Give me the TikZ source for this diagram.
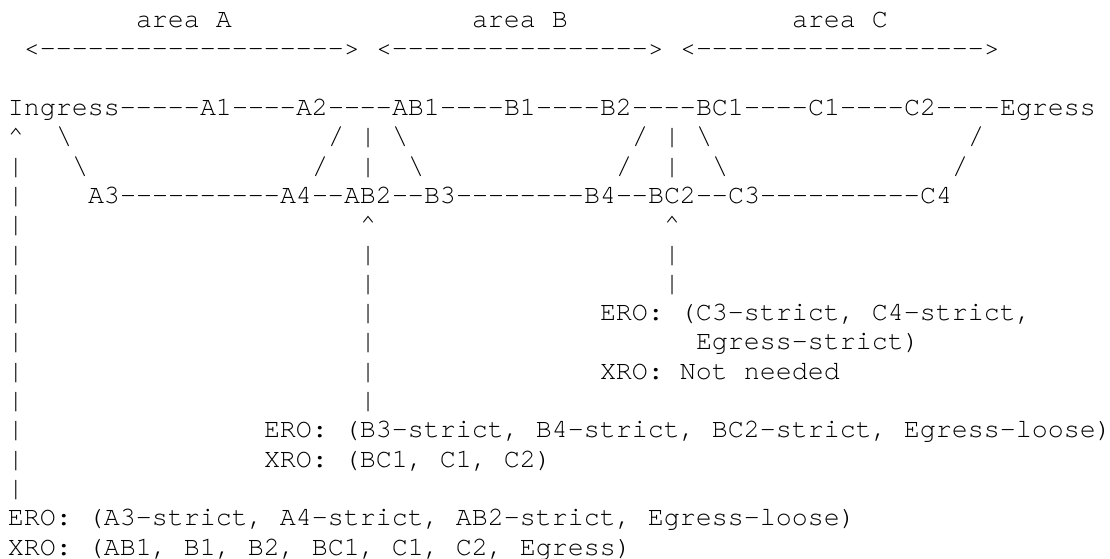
\documentclass[tikz,border=0pt]{standalone}
\usepackage{fontspec}
\setmonofont{TeX Gyre Cursor}
\tikzset{
  ascii/.style={font=\ttfamily\fontsize{13.33pt}{14.65pt}\selectfont\frenchspacing,
    inner sep=0pt, outer sep=0pt, text height=9pt, text depth=3pt},
  cell/.style={ascii, anchor=base west},
}
\begin{document}
\begin{tikzpicture}[x=8pt,y=-14.65pt]
  \useasboundingbox (-4pt,-0.85pt) rectangle (551pt,-279.85pt);

  % areas
  \begin{scope}[every node/.style={cell}]
    \node (areaA) at (8,1)  {area A};
    \node (areaB) at (29,1) {area B};
    \node (areaC) at (49,1) {area C};
    \node (spanA) at (1,2)  {<------------------->};
    \node (spanB) at (23,2) {<---------------->};
    \node (spanC) at (42,2) {<------------------>};
  \end{scope}

  % routers
  \begin{scope}[every node/.style={cell}]
    \node (ingress) at (0,4)  {Ingress};
    \node (a1)      at (12,4) {A1};
    \node (a2)      at (18,4) {A2};
    \node (ab1)     at (24,4) {AB1};
    \node (b1)      at (31,4) {B1};
    \node (b2)      at (37,4) {B2};
    \node (bc1)     at (43,4) {BC1};
    \node (c1)      at (50,4) {C1};
    \node (c2)      at (56,4) {C2};
    \node (egress)  at (62,4) {Egress};
    \node (a3)      at (5,7)  {A3};
    \node (a4)      at (17,7) {A4};
    \node (ab2)     at (21,7) {AB2};
    \node (b3)      at (26,7) {B3};
    \node (b4)      at (36,7) {B4};
    \node (bc2)     at (40,7) {BC2};
    \node (c3)      at (45,7) {C3};
    \node (c4)      at (57,7) {C4};
  \end{scope}

  % links
  \begin{scope}[every node/.style={ascii}]
    \path (ingress.east) -- node {-----} (a1.west);
    \path (a1.east)  -- node {----} (a2.west);
    \path (a2.east)  -- node {----} (ab1.west);
    \path (ab1.east) -- node {----} (b1.west);
    \path (b1.east)  -- node {----} (b2.west);
    \path (b2.east)  -- node {----} (bc1.west);
    \path (bc1.east) -- node {----} (c1.west);
    \path (c1.east)  -- node {----} (c2.west);
    \path (c2.east)  -- node {----} (egress.west);
    \path (a3.east)  -- node {----------} (a4.west);
    \path (a4.east)  -- node {--} (ab2.west);
    \path (ab2.east) -- node {--} (b3.west);
    \path (b3.east)  -- node {--------} (b4.west);
    \path (b4.east)  -- node {--} (bc2.west);
    \path (bc2.east) -- node {--} (c3.west);
    \path (c3.east)  -- node {----------} (c4.west);
  \end{scope}

  % diagonal and vertical links
  \begin{scope}[every node/.style={cell}]
    \node (d1) at (3,5)  {\textbackslash};
    \node (d2) at (4,6)  {\textbackslash};
    \node (d3) at (20,5) {/};
    \node (d4) at (19,6) {/};
    \node (d5) at (24,5) {\textbackslash};
    \node (d6) at (25,6) {\textbackslash};
    \node (d7) at (39,5) {/};
    \node (d8) at (38,6) {/};
    \node (d9) at (43,5) {\textbackslash};
    \node (d10) at (44,6) {\textbackslash};
    \node (d11) at (60,5) {/};
    \node (d12) at (59,6) {/};
    \node (v1) at (22,5) {|};
    \node (v2) at (22,6) {|};
    \node (v3) at (41,5) {|};
    \node (v4) at (41,6) {|};
  \end{scope}

  % pointers to the routers
  \begin{scope}[every node/.style={cell}]
    \node (upIn)  at (0,5)  {\textasciicircum};
    \node (upAB)  at (22,8) {\textasciicircum};
    \node (upBC)  at (41,8) {\textasciicircum};
    \foreach \r in {6,...,17} \node (barIn\r) at (0,\r) {|};
    \foreach \r in {9,...,14} \node (barAB\r) at (22,\r) {|};
    \foreach \r in {9,10} \node (barBC\r) at (41,\r) {|};
  \end{scope}

  % route objects
  \begin{scope}[every node/.style={cell}]
    \node (eroC)  at (37,11) {ERO: (C3-strict, C4-strict,};
    \node (eroCb) at (43,12) {Egress-strict)};
    \node (xroC)  at (37,13) {XRO: Not needed};
    \node (eroB)  at (16,15) {ERO: (B3-strict, B4-strict, BC2-strict, Egress-loose)};
    \node (xroB)  at (16,16) {XRO: (BC1, C1, C2)};
    \node (eroA)  at (0,18)  {ERO: (A3-strict, A4-strict, AB2-strict, Egress-loose)};
    \node (xroA)  at (0,19)  {XRO: (AB1, B1, B2, BC1, C1, C2, Egress)};
  \end{scope}

\end{tikzpicture}
\end{document}
